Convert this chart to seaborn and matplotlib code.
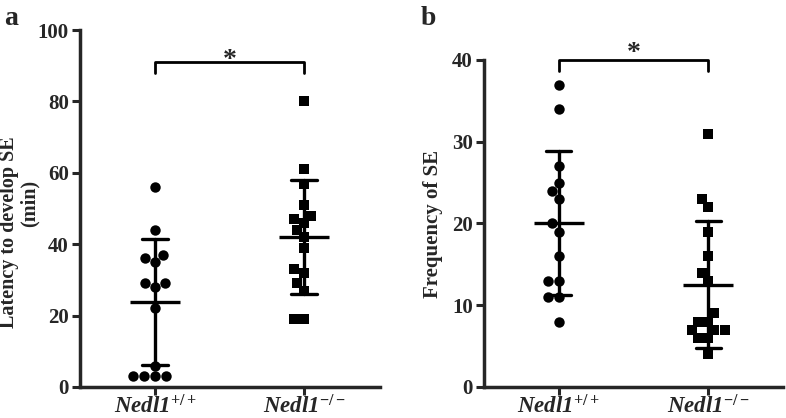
import pandas as pd
import matplotlib
matplotlib.use("Agg")
import matplotlib.pyplot as plt
import seaborn as sns

# data
groups = ["wt", "ko"]
group_labels = [r"Nedl1$^{+/+}$", r"Nedl1$^{-/-}$"]

latency_wt = [56, 44, 37, 36, 35, 29, 29, 28, 22, 6, 3, 3, 3, 3]
latency_ko = [80, 61, 57, 51, 48, 47, 46, 44, 42, 39, 33, 32, 29, 27, 19, 19]

freq_wt = [37, 34, 27, 25, 24, 23, 20, 19, 16, 13, 13, 11, 11, 8]
freq_ko = [31, 23, 22, 19, 16, 14, 13, 9, 8, 8, 7, 7, 7, 6, 6, 4]

sns.set_style("ticks")
plt.rcParams["font.family"] = ["Liberation Serif", "DejaVu Serif"]
plt.rcParams["font.weight"] = "bold"
plt.rcParams["axes.labelweight"] = "bold"
plt.rcParams["mathtext.fontset"] = "custom"
plt.rcParams["mathtext.it"] = "Liberation Serif:italic"
plt.rcParams["mathtext.rm"] = "Liberation Serif"
plt.rcParams["mathtext.bf"] = "Liberation Serif:bold"


def make_df(wt, ko):
    return pd.DataFrame({
        "group": ["wt"] * len(wt) + ["ko"] * len(ko),
        "value": list(wt) + list(ko),
    })


def panel(ax, wt, ko, ylim, yticks, bar_y, bar_drop, star_off):
    df = make_df(wt, ko)
    sns.swarmplot(data=df[df.group == "wt"], x="group", y="value", order=groups,
                  marker="o", size=7.5, color="black", linewidth=0, ax=ax)
    sns.swarmplot(data=df[df.group == "ko"], x="group", y="value", order=groups,
                  marker="s", size=7.2, color="black", linewidth=0, ax=ax)
    sns.pointplot(data=df, x="group", y="value", order=groups, errorbar="sd",
                  capsize=0.17, color="black", markers="_", linestyles="none",
                  markersize=36, markeredgewidth=2.4,
                  err_kws={"linewidth": 2.4}, ax=ax)
    ax.set_ylim(*ylim)
    ax.set_yticks(yticks)
    ax.set_xlim(-0.5, 1.5)
    ax.set_xticks([0, 1])
    ax.set_xticklabels(group_labels, fontsize=16.5, fontstyle="italic")
    ax.set_xlabel("")
    ax.set_ylabel("")
    ax.tick_params(axis="y", labelsize=15, width=2.2, length=6, pad=2)
    ax.tick_params(axis="x", width=2.2, length=6, pad=0)
    for s in ["left", "bottom"]:
        ax.spines[s].set_linewidth(2.5)
    sns.despine(ax=ax)
    # significance bracket
    ax.plot([0, 0, 1, 1], [bar_y - bar_drop, bar_y, bar_y, bar_y - bar_drop],
            color="black", linewidth=2, clip_on=False)
    ax.annotate("*", xy=(0.5, bar_y), xytext=(0, star_off),
                textcoords="offset points", ha="center", va="bottom",
                fontsize=20, fontweight="bold", annotation_clip=False)


fig = plt.figure(figsize=(7.86, 4.18), dpi=100)
ax1 = fig.add_axes([0.1018, 0.0742, 0.3817, 0.854])
ax2 = fig.add_axes([0.6158, 0.0742, 0.3804, 0.7823])

panel(ax1, latency_wt, latency_ko, (0, 100), [0, 20, 40, 60, 80, 100],
      91, 3, -8)
ax1.set_xlim(-0.503, 1.51)
panel(ax2, freq_wt, freq_ko, (0, 40), [0, 10, 20, 30, 40],
      40, 1.3, -4)

# y axis titles
fig.text(9 / 786, 1 - 232 / 418, "Latency to develop SE", rotation=90,
         ha="center", va="center", fontsize=14.5, fontweight="bold")
fig.text(29.5 / 786, 1 - 203 / 418, "(min)", rotation=90,
         ha="center", va="center", fontsize=14.5, fontweight="bold")
fig.text(433 / 786, 1 - 224 / 418, "Frequency of SE", rotation=90,
         ha="center", va="center", fontsize=15, fontweight="bold")

fig.text(0.005, 0.985, "a", fontsize=20, fontweight="bold", va="top")
fig.text(0.535, 0.985, "b", fontsize=20, fontweight="bold", va="top")

fig.savefig("out.png", dpi=100)
